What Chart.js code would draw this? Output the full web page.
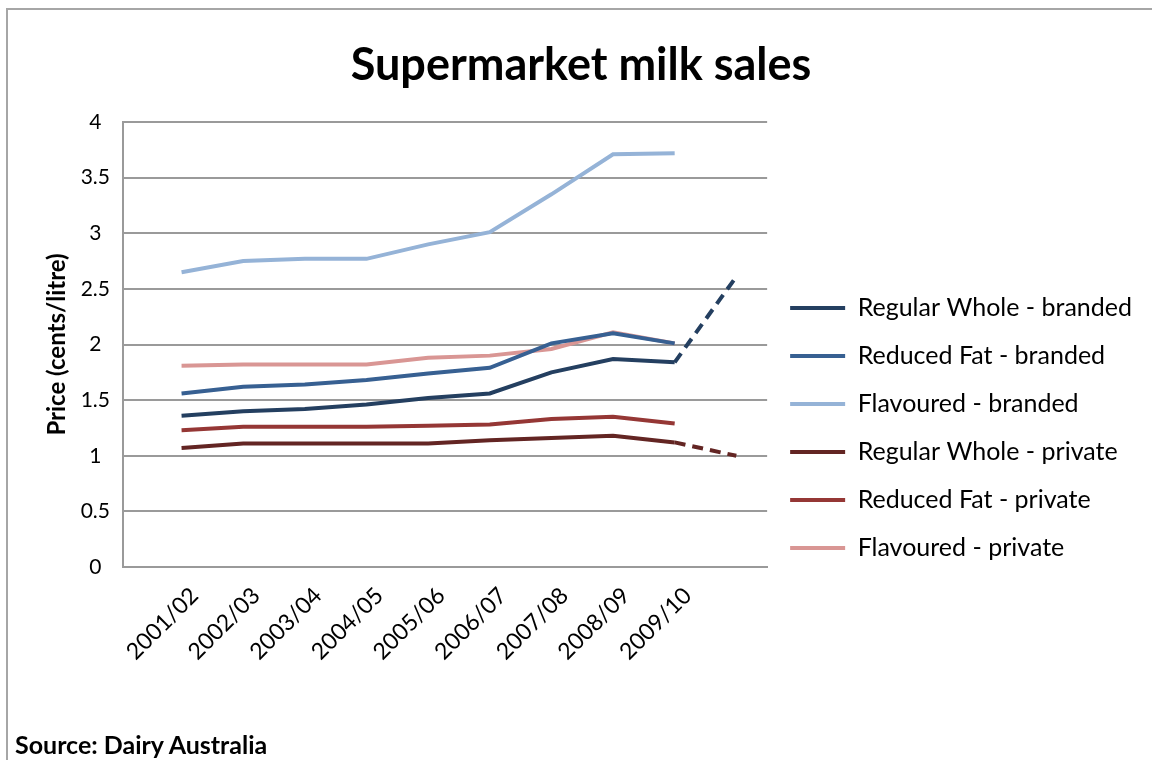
<!DOCTYPE html>
<html>
<head>
<meta charset="utf-8">
<title>Supermarket milk sales</title>
<script src="https://cdn.jsdelivr.net/npm/chart.js"></script>
<style>
    body { margin: 0; background: #fff; }
    #frame { position: absolute; left: 6px; top: 8px; width: 1200px; height: 800px;
             border-left: 2px solid #a6a6a6; border-top: 2px solid #a6a6a6; }
    #chart { position: absolute; left: 0; top: 0; }
    #source { position: absolute; left: 15px; top: 729px; font: bold 25px Lato, sans-serif; color: #000; }
</style>
</head>
<body>
<div id="frame"></div>
<canvas id="chart" width="1152" height="760"></canvas>
<div id="source">Source: Dairy Australia</div>
<script>
// financial years, last point is the dashed projection with no label
var years = ['2001/02', '2002/03', '2003/04', '2004/05', '2005/06', '2006/07', '2007/08', '2008/09', '2009/10', ''];

var regularWholeBranded = [1.36, 1.40, 1.42, 1.46, 1.52, 1.56, 1.75, 1.87, 1.84, 2.61];
var reducedFatBranded = [1.56, 1.62, 1.64, 1.68, 1.74, 1.79, 2.01, 2.10, 2.01];
var flavouredBranded = [2.65, 2.75, 2.77, 2.77, 2.90, 3.01, 3.35, 3.71, 3.72];
var regularWholePrivate = [1.07, 1.11, 1.11, 1.11, 1.11, 1.14, 1.16, 1.18, 1.12, 1.00];
var reducedFatPrivate = [1.23, 1.26, 1.26, 1.26, 1.27, 1.28, 1.33, 1.35, 1.29];
var flavouredPrivate = [1.81, 1.82, 1.82, 1.82, 1.88, 1.90, 1.96, 2.11, 2.01];

var yTicks = [0, 0.5, 1, 1.5, 2, 2.5, 3, 3.5, 4];

function toPoints(arr) {
    return arr.map(function (v, i) { return {x: i, y: v}; });
}

function series(label, values, color) {
    return {
        label: label,
        data: toPoints(values),
        borderColor: color,
        backgroundColor: color,
        borderWidth: 4,
        pointRadius: 0,
        fill: false,
        tension: 0,
        segment: {
            // last segment is a projection, drawn dashed
            borderDash: function (ctx) { return ctx.p1DataIndex === 9 ? [11, 7] : undefined; }
        }
    };
}

var gridColor = '#9a9a9a';
var font = 'Lato, sans-serif';

new Chart(document.getElementById('chart'), {
    type: 'line',
    data: {
        datasets: [
            series('Regular Whole - branded', regularWholeBranded, '#243f60'),
            series('Reduced Fat - branded', reducedFatBranded, '#376092'),
            series('Flavoured - branded', flavouredBranded, '#95b3d7'),
            series('Regular Whole - private', regularWholePrivate, '#632523'),
            series('Reduced Fat - private', reducedFatPrivate, '#953735'),
            series('Flavoured - private', flavouredPrivate, '#d99694')
        ]
    },
    options: {
        responsive: false,
        animation: false,
        layout: {padding: {left: 20, right: 10, top: 0, bottom: 0}},
        plugins: {
            tooltip: {enabled: false},
            title: {
                display: true,
                text: 'Supermarket milk sales',
                color: '#000',
                font: {family: font, size: 45, weight: 'bold'},
                padding: {top: 38, bottom: 30}
            },
            legend: {
                position: 'right',
                align: 'start',
                maxWidth: 420,
                // empty title only pushes the items down next to the lines
                title: {display: true, text: ' ', font: {size: 12}, padding: {top: 0, bottom: 258}},
                labels: {
                    color: '#000',
                    font: {family: font, size: 25},
                    usePointStyle: true,
                    pointStyle: 'line',
                    pointStyleWidth: 55,
                    padding: 23
                }
            }
        },
        scales: {
            x: {
                type: 'linear',
                min: -0.95,
                max: 9.5,
                afterBuildTicks: function (axis) {
                    axis.ticks = years.map(function (y, i) { return {value: i}; });
                },
                afterFit: function (axis) { axis.height = 193; },
                grid: {display: false, drawTicks: false},
                border: {display: true, color: gridColor, width: 2},
                ticks: {
                    autoSkip: false,
                    maxRotation: 45,
                    minRotation: 45,
                    padding: 15,
                    labelOffset: 13,
                    color: '#000',
                    font: {family: font, size: 23},
                    callback: function (v) { return years[v] || ''; }
                }
            },
            y: {
                min: 0,
                max: 4,
                afterBuildTicks: function (axis) {
                    axis.ticks = yTicks.map(function (v) { return {value: v}; });
                },
                afterFit: function (axis) { axis.width = 103; },
                grid: {color: gridColor, lineWidth: 2, drawTicks: false},
                border: {display: true, color: gridColor, width: 2},
                ticks: {
                    padding: 13,
                    crossAlign: 'center',
                    color: '#000',
                    font: {family: font, size: 21},
                    callback: function (v) { return String(v); }
                },
                title: {
                    display: true,
                    text: 'Price (cents/litre)',
                    color: '#000',
                    font: {family: font, size: 24, weight: 'bold'},
                    padding: {top: 23, bottom: 4}
                }
            }
        }
    }
});
</script>
</body>
</html>
